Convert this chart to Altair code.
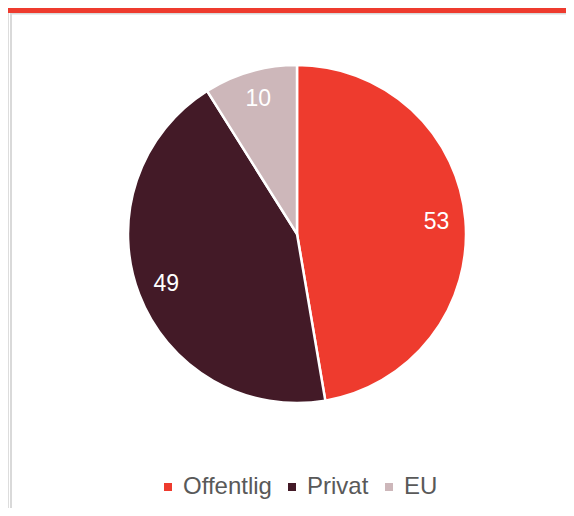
import altair as alt
import pandas as pd

categories = ["Offentlig", "Privat", "EU"]
values = [53, 49, 10]
colors = ["#EE3B2E", "#431A27", "#CDB7BA"]

df = pd.DataFrame({"kategori": categories, "verdi": values, "rekkefolge": [0, 1, 2]})

W, H = 558, 500
CX, CY, R = 289, 226, 169

color = alt.Color(
    "kategori:N",
    scale=alt.Scale(domain=categories, range=colors),
    sort=categories,
    legend=alt.Legend(
        title=None,
        orient="none",
        legendX=148,
        legendY=467,
        direction="horizontal",
        symbolType="square",
        symbolSize=64,
        symbolStrokeWidth=0,
        labelFontSize=24,
        labelColor="#595959",
        labelFont="Liberation Sans",
        labelOffset=3,
        columnPadding=8,
        padding=0,
    ),
)

base = alt.Chart(df).encode(
    theta=alt.Theta("verdi:Q", stack=True),
    order=alt.Order("rekkefolge:Q"),
)

arc = base.mark_arc(outerRadius=R, stroke="white", strokeWidth=2.5).encode(
    color=color,
    x=alt.value(CX),
    y=alt.value(CY),
)

labels = base.mark_text(
    radius=140, fontSize=23, color="white", font="Liberation Sans"
).encode(
    text=alt.Text("verdi:Q"),
    x=alt.value(CX),
    y=alt.value(CY),
)

one = alt.Data(values=[{"a": 1}])

top_bar = alt.Chart(one).mark_rect(color="#EE3B2E").encode(
    x=alt.value(0), x2=alt.value(W), y=alt.value(0), y2=alt.value(5)
)
top_line = alt.Chart(one).mark_rule(color="#D9D9D9", strokeWidth=1.5).encode(
    x=alt.value(2), x2=alt.value(W), y=alt.value(5.75)
)
left_line = alt.Chart(one).mark_rule(color="#D9D9D9", strokeWidth=2).encode(
    x=alt.value(3), y=alt.value(5), y2=alt.value(H)
)

chart = (
    alt.layer(left_line, top_line, top_bar, arc, labels)
    .properties(width=W, height=H, padding=0, autosize=alt.AutoSizeParams(type="none"))
    .configure_view(stroke=None)
    .configure(background="white")
)

chart.save("out.html", embed_options={"renderer": "svg", "actions": False})
